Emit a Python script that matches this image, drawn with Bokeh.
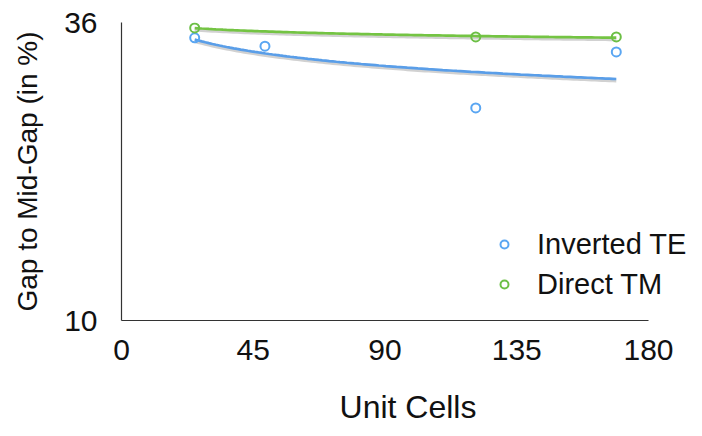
import numpy as np
from bokeh.plotting import figure
from bokeh.models import FixedTicker, Range1d, Legend, LegendItem
from bokeh.embed import file_html
from bokeh.resources import INLINE

# Data
inv_te_x = [25, 49, 121, 169]
inv_te_y = [34.66, 33.93, 28.55, 33.43]
dir_tm_x = [25, 121, 169]
dir_tm_y = [35.53, 34.74, 34.74]
x_ticks = [0, 45, 90, 135, 180]
y_ticks = [10, 36]

BLUE = "#5aa6f2"
BLUE_LINE = "#5a9ee8"
GREEN = "#6cbf45"
GREEN_LINE = "#74c443"
FONT = "Liberation Sans"

W, H = 694, 428
BL, BR, BT, BB = 121, 0, 22, 108
frame_w = W - BL - BR
x_end = 180.0 * frame_w / 527.0   # plot area continues to the right under the legend

p = figure(width=W, height=H, output_backend="svg", toolbar_location=None,
           x_range=Range1d(0, x_end), y_range=Range1d(10, 36),
           min_border_left=BL, min_border_right=BR, min_border_top=BT, min_border_bottom=BB)
p.outline_line_color = None
p.background_fill_color = "white"

# axes
p.xaxis.ticker = FixedTicker(ticks=x_ticks)
p.yaxis.ticker = FixedTicker(ticks=y_ticks)
p.xaxis.bounds = (0, 180)
for ax in (p.xaxis[0], p.yaxis[0]):
    ax.major_tick_line_color = None
    ax.minor_tick_line_color = None
    ax.axis_line_color = "#333333"
    ax.axis_line_width = 1.2
    ax.major_label_text_font = FONT
    ax.major_label_text_font_size = "30px"
    ax.major_label_text_color = "#111111"
    ax.axis_label_text_font = FONT
    ax.axis_label_text_font_style = "normal"
    ax.axis_label_text_color = "#111111"
p.xaxis.axis_label = "Unit Cells"
p.xaxis.axis_label_text_font_size = "32px"
p.xaxis.major_label_standoff = 13
p.xaxis.axis_label_standoff = 26
p.yaxis.axis_label = "Gap to Mid-Gap (in %)"
p.yaxis.axis_label_text_font_size = "28px"
p.yaxis.major_label_standoff = 18
p.yaxis.axis_label_standoff = 18

p.xgrid.visible = False
p.ygrid.ticker = FixedTicker(ticks=y_ticks)
p.ygrid.bounds = (0, 180)
p.ygrid.grid_line_color = "#e2e2e2"
p.ygrid.grid_line_width = 1.5

# logarithmic trend lines with a soft shadow
shadow_dy = 2.0 * (36 - 10) / 298.0
for xs, ys, col in ((inv_te_x, inv_te_y, BLUE_LINE), (dir_tm_x, dir_tm_y, GREEN_LINE)):
    b, a = np.polyfit(np.log(xs), ys, 1)
    xx = np.linspace(min(xs), max(xs), 120)
    yy = a + b * np.log(xx)
    p.line(xx, yy - shadow_dy, line_color="#9a9a9a", line_width=3, line_alpha=0.45)
    p.line(xx, yy, line_color=col, line_width=2.7)

r1 = p.scatter(inv_te_x, inv_te_y, marker="circle", size=9, line_width=2,
               line_color=BLUE, fill_alpha=0)
r2 = p.scatter(dir_tm_x, dir_tm_y, marker="circle", size=9, line_width=2,
               line_color=GREEN, fill_alpha=0)

legend = Legend(items=[LegendItem(label="Inverted TE", renderers=[r1]),
                       LegendItem(label="Direct TM", renderers=[r2])],
                location=(373, 16))
legend.border_line_color = None
legend.background_fill_alpha = 0
legend.padding = 0
legend.margin = 0
legend.spacing = 0
legend.glyph_width = 20
legend.glyph_height = 40
legend.label_height = 40
legend.label_standoff = 23
legend.label_text_font = FONT
legend.label_text_font_size = "29px"
legend.label_text_color = "#111111"
p.add_layout(legend, "center")

open("out.html", "w").write(file_html(p, INLINE))
